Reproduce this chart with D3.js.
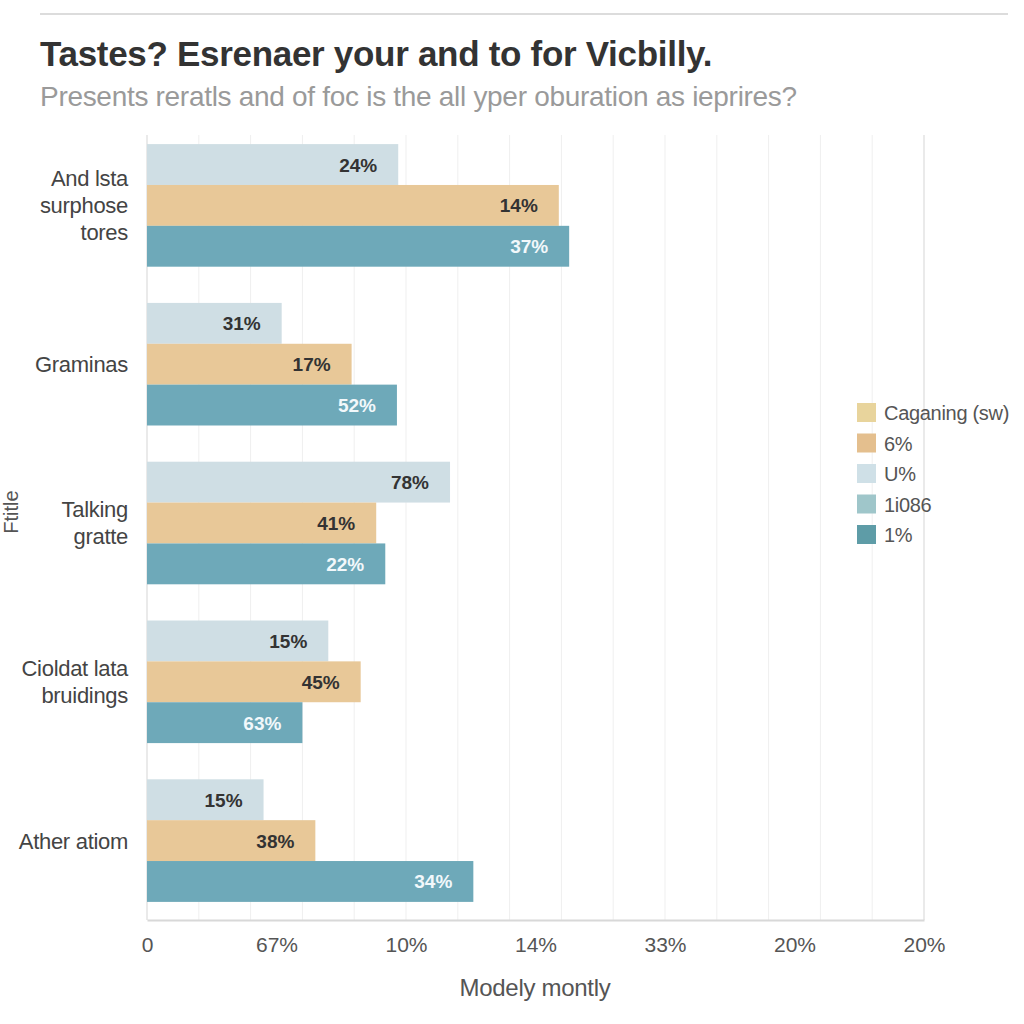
<!DOCTYPE html>
<html>
<head>
<meta charset="utf-8">
<script src="https://cdn.jsdelivr.net/npm/d3@7"></script>
<style>
  body { margin: 0; background: #fff; }
  svg { display: block; font-family: "Liberation Sans", Arial, sans-serif; }
</style>
</head>
<body>
<svg id="chart" width="1024" height="1024"></svg>
<script>
const categories = [
  ["And lsta", "surphose", "tores"],
  ["Graminas"],
  ["Talking", "gratte"],
  ["Cioldat lata", "bruidings"],
  ["Ather atiom"]
];
const categoryKeys = ["c1", "c2", "c3", "c4", "c5"];
const seriesKeys = ["light", "tan", "teal"];
const lightValues = [19.4, 10.4, 23.4, 14.0, 9.0];
const tanValues = [31.8, 15.8, 17.7, 16.5, 13.0];
const tealValues = [32.6, 19.3, 18.4, 12.0, 25.2];
const lightLabels = ["24%", "31%", "78%", "15%", "15%"];
const tanLabels = ["14%", "17%", "41%", "45%", "38%"];
const tealLabels = ["37%", "52%", "22%", "63%", "34%"];
const tickValues = [0, 10, 20, 30, 40, 50, 60];
const tickLabels = ["0", "67%", "10%", "14%", "33%", "20%", "20%"];
const legendLabels = ["Caganing (sw)", "6%", "U%", "1i086", "1%"];
const legendColors = ["#e8d49c", "#e4bf8e", "#cfe0e7", "#9fc6ca", "#5e9ca7"];
const seriesColors = { light: "#cfdee4", tan: "#e8c898", teal: "#6ea9b9" };
const labelColors = { light: "#333", tan: "#333", teal: "#f2f8fb" };

const svg = d3.select("#chart");

// top rule
svg.append("line").attr("x1", 40).attr("x2", 1008).attr("y1", 14).attr("y2", 14)
  .attr("stroke", "#dcdcdc").attr("stroke-width", 2);

svg.append("text").attr("x", 40).attr("y", 66)
  .attr("font-size", 35).attr("font-weight", "bold").attr("fill", "#333")
  .attr("letter-spacing", -0.3)
  .text("Tastes? Esrenaer your and to for Vicbilly.");
svg.append("text").attr("x", 40).attr("y", 106)
  .attr("font-size", 28).attr("fill", "#9a9a9a")
  .attr("letter-spacing", -0.3)
  .text("Presents reratls and of foc is the all yper oburation as ieprires?");

const x = d3.scaleLinear().domain([0, 60]).range([147, 924]);
const y = d3.scaleBand().domain(categoryKeys).range([126, 920]).paddingInner(0.228).paddingOuter(0.114);
const ySub = d3.scaleBand().domain(seriesKeys).range([0, y.bandwidth()]);

// gridlines
const grid = svg.append("g");
grid.selectAll("line").data(d3.range(0, 61, 4)).join("line")
  .attr("x1", d => x(d)).attr("x2", d => x(d))
  .attr("y1", 135).attr("y2", 920)
  .attr("stroke", "#efefef").attr("stroke-width", 1);

// plot frame
svg.append("line").attr("x1", x(60)).attr("x2", x(60)).attr("y1", 135).attr("y2", 920)
  .attr("stroke", "#e6e6e6").attr("stroke-width", 1.5);
svg.append("line").attr("x1", x(0)).attr("x2", x(0)).attr("y1", 135).attr("y2", 920)
  .attr("stroke", "#e6e6e6").attr("stroke-width", 1.5);

const rows = categoryKeys.map((k, i) => ({
  key: k,
  lines: categories[i],
  bars: [
    { s: "light", v: lightValues[i], l: lightLabels[i] },
    { s: "tan", v: tanValues[i], l: tanLabels[i] },
    { s: "teal", v: tealValues[i], l: tealLabels[i] }
  ]
}));

const g = svg.append("g").selectAll("g").data(rows).join("g")
  .attr("transform", d => `translate(0,${y(d.key)})`);

g.selectAll("rect").data(d => d.bars).join("rect")
  .attr("x", x(0)).attr("y", d => ySub(d.s))
  .attr("width", d => x(d.v) - x(0)).attr("height", ySub.bandwidth())
  .attr("fill", d => seriesColors[d.s]);

g.selectAll("text.val").data(d => d.bars).join("text").attr("class", "val")
  .attr("x", d => x(d.v) - 21).attr("y", d => ySub(d.s) + ySub.bandwidth() / 2 + 7)
  .attr("text-anchor", "end").attr("font-size", 19).attr("font-weight", "bold")
  .attr("fill", d => labelColors[d.s]).text(d => d.l);

// category labels
g.each(function(d) {
  const n = d.lines.length;
  const lh = 27;
  const cy = y.bandwidth() / 2;
  d3.select(this).selectAll("text.cat").data(d.lines).join("text").attr("class", "cat")
    .attr("x", 128).attr("y", (t, j) => cy + (j - (n - 1) / 2) * lh + 8)
    .attr("text-anchor", "end").attr("font-size", 22).attr("fill", "#444")
    .attr("letter-spacing", -0.3)
    .text(t => t);
});

// x axis
const xAxis = d3.axisBottom(x).tickValues(tickValues).tickSize(0).tickPadding(17)
  .tickFormat((d, i) => tickLabels[i]);
const ax = svg.append("g").attr("transform", "translate(0,920)").call(xAxis);
ax.select(".domain").attr("stroke", "#d8d8d8").attr("stroke-width", 2);
ax.selectAll("text").attr("font-size", 21).attr("fill", "#555")
  .attr("font-family", "'Liberation Sans', Arial, sans-serif");

svg.append("text").attr("x", 535).attr("y", 996).attr("text-anchor", "middle")
  .attr("font-size", 24).attr("fill", "#555").attr("letter-spacing", -0.3).text("Modely montly");

svg.append("text").attr("transform", "translate(18,512) rotate(-90)")
  .attr("text-anchor", "middle").attr("font-size", 20).attr("fill", "#555").text("Ftitle");

// legend
const leg = svg.append("g").attr("transform", "translate(857,403)");
const li = leg.selectAll("g").data(legendLabels).join("g")
  .attr("transform", (d, i) => `translate(0,${i * 30.5})`);
li.append("rect").attr("width", 19).attr("height", 19).attr("fill", (d, i) => legendColors[i]);
li.append("text").attr("x", 27).attr("y", 17).attr("font-size", 20).attr("fill", "#555")
  .attr("letter-spacing", -0.3).text(d => d);
</script>
</body>
</html>
